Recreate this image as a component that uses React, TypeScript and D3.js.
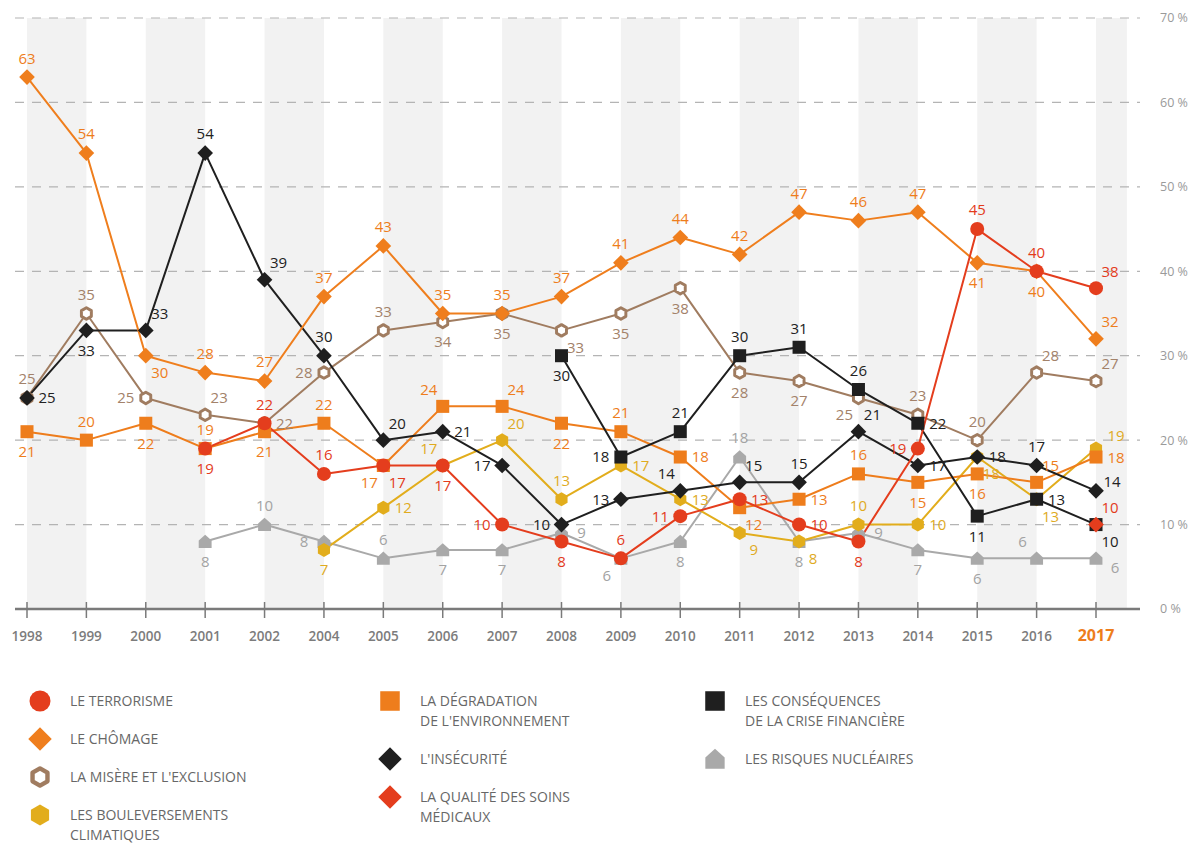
import React from 'react';
import * as d3 from 'd3';

const years = ['1998','1999','2000','2001','2002','2004','2005','2006','2007','2008','2009','2010','2011','2012','2013','2014','2015','2016','2017'];
const yTicks = [0, 10, 20, 30, 40, 50, 60, 70];

const terrorisme = [null,null,null,19,22,16,17,17,10,8,6,11,13,10,8,19,45,40,38];
const chomage = [63,54,30,28,27,37,43,35,35,37,41,44,42,47,46,47,41,40,32];
const misere = [25,35,25,23,22,28,33,34,35,33,35,38,28,27,25,23,20,28,27];
const climat = [null,null,null,null,null,7,12,17,20,13,17,13,9,8,10,10,18,13,19];
const environnement = [21,20,22,19,21,22,17,24,24,22,21,18,12,13,16,15,16,15,18];
const insecurite = [25,33,33,54,39,30,20,21,17,10,13,14,15,15,21,17,18,17,14];
const crise = [null,null,null,null,null,null,null,null,null,30,18,21,30,31,26,22,11,13,10];
const nucleaire = [null,null,null,8,10,8,6,7,7,9,6,8,18,8,9,7,6,6,6];
const soins = [null,null,null,null,null,null,null,null,null,null,null,null,null,null,null,null,null,null,10];

// label placement codes, in order of the non-empty values of each series
const placeTerrorisme = ['b','a','a','br','b','l','b','a','l','r','r','b','l','a','a','ar'];
const placeChomage = ['a','a','br','a','a','a','a','a','a','a','a','a','a','a','a','a','b','b','ar'];
const placeMisere = ['a','a','l','ar','r','l','a','b','b','br','b','b','b','b','bl','a','a','ar','ar'];
const placeClimat = ['b','r','al','ar','a','r','r','br','br','a','r','br','br','ru'];
const placeEnvironnement = ['b','a','b','a','b','a','bl','al','ar','b','a','r','br','r','a','b','b','ar','rs'];
const placeInsecurite = ['r','b','ar','a','ar','a','ar','r','l','l','l','al','ar','a','ar','r','r','a','ar2'];
const placeCrise = ['b','l','a','a','a','a','r','b','r','br'];
const placeNucleaire = ['b','a','l','a','b','b','r','bl','b','a','b','r','b','b','al','rd'];
const placeSoins = ['ar'];

const OFF: Record<string, [number, number]> = {
  a: [0, -19], b: [0, 20], l: [-20, 0], r: [20, 0],
  ar: [14, -17], al: [-14, -17], br: [14, 17], bl: [-14, 17],
  ru: [20, -13], rd: [19, 9], rs: [20, 1], ar2: [16, -9],
};

type Shape = 'circle' | 'diamond' | 'hexHollow' | 'hex' | 'square' | 'house';

interface Series {
  key: string;
  name: string[];
  values: (number | null)[];
  place: string[];
  color: string;
  labelColor: string;
  shape: Shape;
}

const series: Series[] = [
  { key: 'nucleaire', name: ['LES RISQUES NUCLÉAIRES'], values: nucleaire, place: placeNucleaire, color: '#a9a9a9', labelColor: '#a3a3a3', shape: 'house' },
  { key: 'climat', name: ['LES BOULEVERSEMENTS', 'CLIMATIQUES'], values: climat, place: placeClimat, color: '#e2ad1c', labelColor: '#e0ab1f', shape: 'hex' },
  { key: 'misere', name: ["LA MISÈRE ET L'EXCLUSION"], values: misere, place: placeMisere, color: '#a07c60', labelColor: '#a3826a', shape: 'hexHollow' },
  { key: 'environnement', name: ['LA DÉGRADATION', "DE L'ENVIRONNEMENT"], values: environnement, place: placeEnvironnement, color: '#ee7d1c', labelColor: '#ee7d1c', shape: 'square' },
  { key: 'insecurite', name: ["L'INSÉCURITÉ"], values: insecurite, place: placeInsecurite, color: '#1f1f1f', labelColor: '#222222', shape: 'diamond' },
  { key: 'crise', name: ['LES CONSÉQUENCES', 'DE LA CRISE FINANCIÈRE'], values: crise, place: placeCrise, color: '#1f1f1f', labelColor: '#222222', shape: 'square' },
  { key: 'chomage', name: ['LE CHÔMAGE'], values: chomage, place: placeChomage, color: '#ef7e1d', labelColor: '#ee7d1c', shape: 'diamond' },
  { key: 'terrorisme', name: ['LE TERRORISME'], values: terrorisme, place: placeTerrorisme, color: '#e43d1d', labelColor: '#e33b1c', shape: 'circle' },
  { key: 'soins', name: ['LA QUALITÉ DES SOINS', 'MÉDICAUX'], values: soins, place: placeSoins, color: '#e43d1d', labelColor: '#e33b1c', shape: 'diamond' },
];

const legendColumns = [
  ['terrorisme', 'chomage', 'misere', 'climat'],
  ['environnement', 'insecurite', 'soins'],
  ['crise', 'nucleaire'],
];

function markerPath(shape: Shape, s: number): string {
  if (shape === 'circle') {
    return `M${-s},0A${s},${s} 0 1,0 ${s},0A${s},${s} 0 1,0 ${-s},0Z`;
  }
  if (shape === 'diamond') {
    const d = s * 1.12;
    return `M0,${-d}L${d},0L0,${d}L${-d},0Z`;
  }
  if (shape === 'square') {
    const h = s * 0.93;
    return `M${-h},${-h}H${h}V${h}H${-h}Z`;
  }
  if (shape === 'hex' || shape === 'hexHollow') {
    const pts = d3.range(6).map(i => {
      const a = Math.PI / 6 + (i * Math.PI) / 3;
      return [Math.cos(a) * s, Math.sin(a) * s];
    });
    return 'M' + pts.map(p => p[0].toFixed(2) + ',' + p[1].toFixed(2)).join('L') + 'Z';
  }
  // house
  const w = s * 0.92;
  return `M${-w},${w}L${-w},${-w * 0.15}L0,${-w * 1.05}L${w},${-w * 0.15}L${w},${w}Z`;
}

function Marker({ shape, color, x, y, s }: { shape: Shape; color: string; x: number; y: number; s: number }) {
  const hollow = shape === 'hexHollow';
  return (
    <path
      d={markerPath(shape, hollow ? s * 0.82 : s)}
      transform={`translate(${x},${y})`}
      fill={hollow ? '#ffffff' : color}
      stroke={hollow ? color : 'none'}
      strokeWidth={hollow ? s * 0.42 : 0}
      strokeLinejoin="round"
    />
  );
}

export default function App() {
  const width = 1198;
  const height = 845;
  const x = d3.scalePoint<string>().domain(years).range([27, 1096]).padding(0);
  const y = d3.scaleLinear().domain([0, 70]).range([609, 18]);
  const step = x.step();
  const gridLeft = 15;
  const gridRight = 1140;

  const line = d3
    .line<number | null>()
    .defined(d => d !== null)
    .x((_, i) => x(years[i]) as number)
    .y(d => y(d as number));

  const font = "'Open Sans', 'Noto Sans', sans-serif";

  return (
    <svg width={width} height={height} style={{ position: 'absolute', left: 0, top: 0, background: '#fff' }} fontFamily={font}>
      {/* alternating bands */}
      {years.map((yr, i) =>
        i % 2 === 0 ? (
          <rect
            key={'band' + yr}
            x={x(yr) as number}
            y={18}
            width={i === years.length - 1 ? step * 0.52 : step}
            height={y(0) - 18}
            fill="#f2f2f2"
          />
        ) : null
      )}
      {/* gridlines */}
      {yTicks.filter(t => t > 0).map(t => (
        <line key={'g' + t} x1={gridLeft} x2={gridRight} y1={y(t)} y2={y(t)} stroke="#b4b4b4" strokeWidth={1.2} strokeDasharray="9,8" />
      ))}
      {/* right axis labels */}
      {yTicks.map(t => (
        <text key={'yt' + t} x={1160} y={y(t)} dy="0.35em" fontSize={12.5} fill="#9a9a9a">
          {t} %
        </text>
      ))}
      {/* x axis */}
      <line x1={gridLeft} x2={gridRight} y1={y(0)} y2={y(0)} stroke="#7a7a7a" strokeWidth={2.5} />
      {years.map(yr => (
        <line key={'tk' + yr} x1={x(yr) as number} x2={x(yr) as number} y1={y(0) - 7} y2={y(0) + 9} stroke="#7a7a7a" strokeWidth={1.5} />
      ))}
      {years.map((yr, i) => {
        const last = i === years.length - 1;
        return (
          <text
            key={'xl' + yr}
            x={x(yr) as number}
            y={641}
            textAnchor="middle"
            fontSize={last ? 16 : 13.5}
            fontWeight={last ? 700 : 600}
            fill={last ? '#ee7d1c' : '#7c7c7c'}
          >
            {yr}
          </text>
        );
      })}
      {/* lines */}
      {series.map(s => (
        <path key={'ln' + s.key} d={line(s.values) || ''} fill="none" stroke={s.color} strokeWidth={2} strokeLinejoin="round" />
      ))}
      {/* markers */}
      {series.map(s => (
        <g key={'mk' + s.key}>
          {s.values.map((v, i) =>
            v === null ? null : (
              <Marker key={i} shape={s.shape} color={s.color} x={x(years[i]) as number} y={y(v)} s={7} />
            )
          )}
        </g>
      ))}
      {/* value labels */}
      {series.map(s => {
        let k = 0;
        return (
          <g key={'lb' + s.key}>
            {s.values.map((v, i) => {
              if (v === null) return null;
              const code = s.place[k++] || 'a';
              const [dx, dy] = OFF[code];
              return (
                <text
                  key={i}
                  x={(x(years[i]) as number) + dx}
                  y={y(v) + dy}
                  dy="0.36em"
                  textAnchor="middle"
                  fontSize={15}
                  fontWeight={500}
                  fill={s.labelColor}
                >
                  {v}
                </text>
              );
            })}
          </g>
        );
      })}
      {/* legend */}
      {legendColumns.map((col, ci) => {
        const colX = [40, 390, 715][ci];
        let cy = 701;
        return (
          <g key={'lgc' + ci}>
            {col.map(key => {
              const s = series.find(d => d.key === key) as Series;
              const rowY = cy;
              cy += 38 + 20 * (s.name.length - 1);
              return (
                <g key={'lg' + key}>
                  <Marker shape={s.shape} color={s.color} x={colX} y={rowY} s={10.5} />
                  {s.name.map((ln, li) => (
                    <text key={li} x={colX + 30} y={rowY + li * 20} dy="0.35em" fontSize={14} fill="#676767">
                      {ln}
                    </text>
                  ))}
                </g>
              );
            })}
          </g>
        );
      })}
    </svg>
  );
}
